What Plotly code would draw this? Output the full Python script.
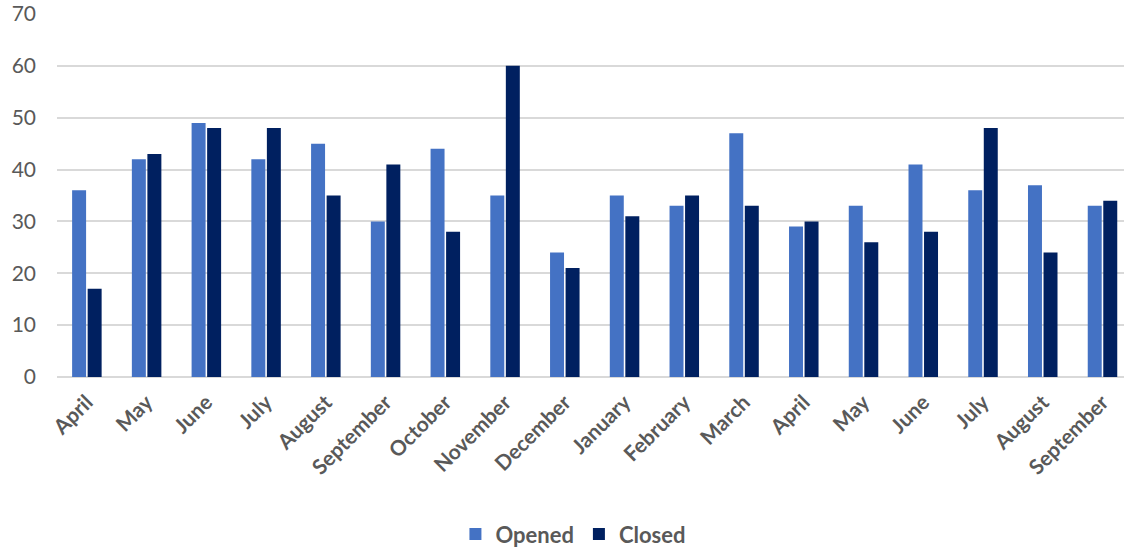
import plotly.graph_objects as go

# Monthly ticket counts, April through September of the following year
months = ["April", "May", "June", "July", "August", "September", "October",
          "November", "December", "January", "February", "March", "April",
          "May", "June", "July", "August", "September"]
opened = [36, 42, 49, 42, 45, 30, 44, 35, 24, 35, 33, 47, 29, 33, 41, 36, 37, 33]
closed = [17, 43, 48, 48, 35, 41, 28, 60, 21, 31, 35, 33, 30, 26, 28, 48, 24, 34]
y_ticks = [0, 10, 20, 30, 40, 50, 60, 70]

positions = list(range(len(months)))
text_gray = "#595959"

fig = go.Figure()
fig.add_trace(go.Bar(x=positions, y=opened, name="Opened",
                     marker=dict(color="#4472C4", line=dict(width=0))))
fig.add_trace(go.Bar(x=positions, y=closed, name="Closed",
                     marker=dict(color="#002060", line=dict(width=0))))

fig.update_layout(
    width=1124, height=548,
    margin=dict(l=57, r=0, t=14, b=171, autoexpand=False),
    paper_bgcolor="white", plot_bgcolor="white",
    barmode="group", bargap=0.48, bargroupgap=0.1,
    font=dict(family="Lato", color=text_gray),
    showlegend=True,
    legend=dict(orientation="h", x=0.484, xanchor="center",
                yref="container", y=0.025, yanchor="middle",
                font=dict(family="Lato", size=22, color=text_gray, weight="bold"),
                itemclick=False),
    xaxis=dict(
        tickmode="array", tickvals=positions, ticktext=months,
        range=[-0.5, 17.36], tickangle=-45,
        tickfont=dict(family="Lato", size=21, color=text_gray, weight="bold"),
        showgrid=False, showline=False, zeroline=False, ticks="",
        ticklabelstandoff=8, automargin=False,
    ),
    yaxis=dict(
        range=[0, 70], tickmode="array", tickvals=y_ticks,
        tickfont=dict(family="Lato", size=21, color=text_gray),
        showgrid=True, gridcolor="#D9D9D9", gridwidth=1.6,
        zeroline=True, zerolinecolor="#D9D9D9", zerolinewidth=1.6,
        showline=False, ticks="", ticklabelstandoff=20, automargin=False,
    ),
)

fig.write_html("out.html")
